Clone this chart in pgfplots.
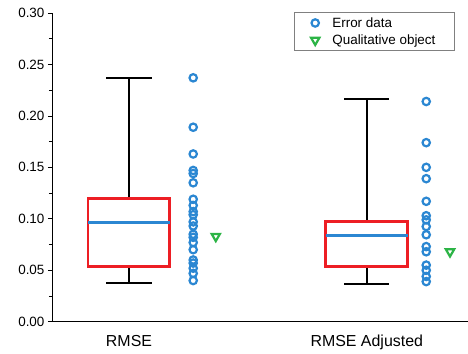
\documentclass[border=0pt]{standalone}
\usepackage{pgfplots}
\pgfplotsset{compat=1.18}
\usepgfplotslibrary{statistics}
\usepackage{fontspec}
\setmainfont{Liberation Sans}
\definecolor{boxred}{RGB}{237,30,36}
\definecolor{medblue}{RGB}{43,135,210}
\definecolor{ptblue}{RGB}{43,135,210}
\definecolor{trigreen}{RGB}{44,180,70}
\begin{document}
\begin{tikzpicture}
\begin{axis}[
  scale only axis,
  width=416bp, height=309bp,
  xmin=0.676, xmax=2.424,
  ymin=0, ymax=0.30,
  axis x line=bottom, axis y line=left,
  axis line style={-, line width=0.8bp},
  xtick={1,2}, xticklabels={RMSE, RMSE Adjusted},
  xtick style={draw=none},
  xticklabel style={font=\fontsize{16}{19}\selectfont, yshift=-6bp},
  ytick={0,0.05,...,0.3},
  minor y tick num=1,
  tick align=outside,
  major tick length=4bp, minor tick length=3bp,
  every tick/.style={black, line width=0.8bp},
  yticklabel style={font=\fontsize{13.5}{16}\selectfont, /pgf/number format/.cd, fixed, fixed zerofill, precision=2, assume math mode=true},
  legend style={at={(0.969,1.003)}, anchor=north east, draw=gray, line width=0.6bp,
    font=\fontsize{13.5}{16}\selectfont, inner xsep=17bp, inner ysep=3bp, row sep=2bp,
    cells={anchor=west},
    /tikz/every odd column/.append style={column sep=11bp}},
  legend cell align=left,
  boxplot/draw direction=y,
]
% Box plots
\addplot[forget plot, boxplot prepared={draw position=1, median=0.096, upper quartile=0.120, lower quartile=0.054, upper whisker=0.237, lower whisker=0.038, box extend=0.344, whisker extend=0.19},
  boxplot/every box/.style={draw=boxred, line width=2.8bp},
  boxplot/every median/.style={draw=medblue, line width=3bp},
  boxplot/every whisker/.style={draw=black, line width=2bp},
] coordinates {};
\addplot[forget plot, boxplot prepared={draw position=2, median=0.084, upper quartile=0.0975, lower quartile=0.054, upper whisker=0.2165, lower whisker=0.037, box extend=0.344, whisker extend=0.19},
  boxplot/every box/.style={draw=boxred, line width=2.8bp},
  boxplot/every median/.style={draw=medblue, line width=3bp},
  boxplot/every whisker/.style={draw=black, line width=2bp},
] coordinates {};
% Error data
\addplot[only marks, mark=o, mark size=3.7bp, mark options={draw=ptblue, line width=2.2bp}] coordinates {
(1.27,0.237)(1.27,0.189)(1.27,0.163)(1.27,0.147)(1.27,0.144)(1.27,0.135)
(1.27,0.119)(1.27,0.113)(1.27,0.107)(1.27,0.104)(1.27,0.097)(1.27,0.093)
(1.27,0.085)(1.27,0.082)(1.27,0.077)(1.27,0.070)(1.27,0.060)(1.27,0.057)
(1.27,0.052)(1.27,0.047)(1.27,0.040)
(2.25,0.214)(2.25,0.174)(2.25,0.150)(2.25,0.139)(2.25,0.117)(2.25,0.103)
(2.25,0.099)(2.25,0.0925)(2.25,0.0845)(2.25,0.073)(2.25,0.068)(2.25,0.055)
(2.25,0.050)(2.25,0.044)(2.25,0.039)
};
\addlegendentry{Error data}
% Qualitative object
\addplot[only marks, mark=triangle, mark size=4.8bp, mark options={draw=trigreen, line width=2.2bp, rotate=180}] coordinates {
(1.365,0.083)(2.35,0.068)
};
\addlegendentry{Qualitative object}
\end{axis}
\path ([shift={(-52bp,-31bp)}]current axis.south west) rectangle ([shift={(0bp,13bp)}]current axis.north east);
\end{tikzpicture}
\end{document}
